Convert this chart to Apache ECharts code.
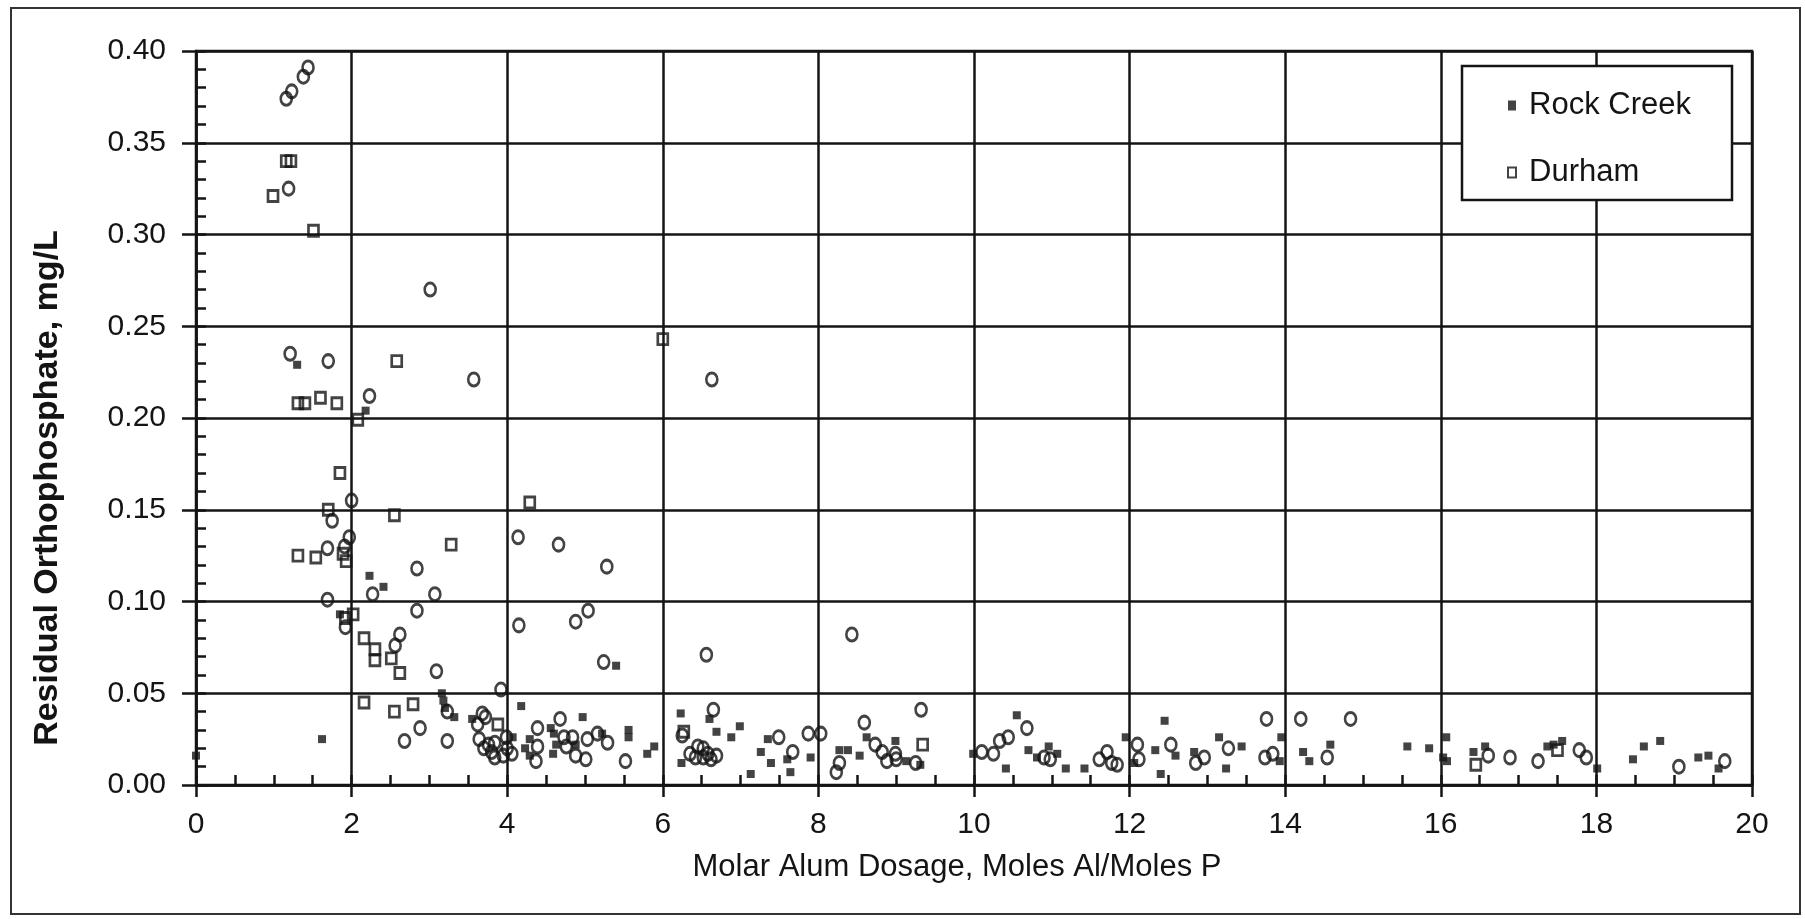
<!DOCTYPE html>
<html>
<head>
<meta charset="utf-8">
<script src="https://cdn.jsdelivr.net/npm/echarts@6/dist/echarts.min.js"></script>
<style>
html,body{margin:0;padding:0;background:#fff;}
#chart{width:1805px;height:919px;}
</style>
</head>
<body>
<div id="chart"></div>
<script>
// ---- Data ----
var xTicks = [0, 2, 4, 6, 8, 10, 12, 14, 16, 18, 20];
var yTicks = [0.00, 0.05, 0.10, 0.15, 0.20, 0.25, 0.30, 0.35, 0.40];
var xTitle = 'Molar Alum Dosage, Moles Al/Moles P';
var yTitle = 'Residual Orthophosphate, mg/L';

var rockCreekX = [1.30, 2.18, 2.23, 2.41, 1.85, 3.16, 3.18, 3.20, 3.32, 5.40,
  0.00, 1.62, 3.55, 4.18, 4.07, 4.23, 4.29, 4.29, 4.56, 4.60, 4.63, 4.59, 4.88, 4.97, 5.22,
  5.56, 5.56, 5.80, 5.89, 6.23, 6.24, 6.60, 6.69, 6.88, 6.99, 7.13, 7.26, 7.35, 7.39, 7.64,
  7.60, 7.90, 8.27, 8.38, 8.53, 8.62, 8.99, 9.13, 9.31, 9.99, 10.41, 10.55, 10.70, 10.81,
  10.96, 11.07, 11.18, 11.42, 11.95, 12.06, 12.33, 12.40, 12.45, 12.59, 12.83, 13.15, 13.24,
  13.44, 13.93, 13.95, 14.23, 14.31, 14.58, 15.57, 15.85, 16.07, 16.03, 16.08, 16.42, 16.57,
  17.37, 17.56, 17.45, 18.01, 18.47, 18.61, 18.82, 19.31, 19.44, 19.57];
var rockCreekY = [0.229, 0.204, 0.114, 0.108, 0.093, 0.050, 0.046, 0.042, 0.037, 0.065,
  0.016, 0.025, 0.036, 0.043, 0.026, 0.020, 0.025, 0.016, 0.031, 0.028, 0.022, 0.017, 0.022, 0.037, 0.028,
  0.030, 0.026, 0.017, 0.021, 0.039, 0.012, 0.036, 0.029, 0.026, 0.032, 0.006, 0.018, 0.025, 0.012, 0.007,
  0.014, 0.015, 0.019, 0.019, 0.016, 0.026, 0.024, 0.013, 0.011, 0.017, 0.009, 0.038, 0.019, 0.015,
  0.021, 0.017, 0.009, 0.009, 0.026, 0.012, 0.019, 0.006, 0.035, 0.016, 0.018, 0.026, 0.009,
  0.021, 0.013, 0.026, 0.018, 0.013, 0.022, 0.021, 0.020, 0.026, 0.015, 0.013, 0.018, 0.021,
  0.021, 0.024, 0.022, 0.009, 0.014, 0.021, 0.024, 0.015, 0.016, 0.009];

var durhamSqX = [1.16, 1.22, 0.99, 1.51, 2.58, 1.31, 1.40, 1.60, 1.81, 2.08, 6.00, 1.85, 1.70,
  2.55, 4.29, 3.28, 1.31, 1.54, 1.89, 1.93, 1.92, 2.02, 2.16, 2.30, 2.30, 2.51, 2.62,
  2.16, 2.55, 2.79, 3.88, 6.27, 9.34, 16.45, 17.50];
var durhamSqY = [0.340, 0.340, 0.321, 0.302, 0.231, 0.208, 0.208, 0.211, 0.208, 0.199, 0.243, 0.170, 0.150,
  0.147, 0.154, 0.131, 0.125, 0.124, 0.126, 0.122, 0.091, 0.093, 0.080, 0.074, 0.068, 0.069, 0.061,
  0.045, 0.040, 0.044, 0.033, 0.029, 0.022, 0.011, 0.019];

var durhamCircX = [1.38, 1.44, 1.16, 1.23, 1.19, 3.01, 1.21, 1.70, 3.57, 6.63, 2.23, 2.00, 1.75,
  1.97, 1.69, 1.91, 4.14, 4.66, 5.28, 2.84, 2.27, 3.07, 1.69, 2.84, 1.92, 4.15, 4.88, 5.04,
  2.62, 2.56, 8.43, 6.56, 5.24, 3.09, 3.92,
  3.23, 2.88, 2.68, 3.23, 3.68, 3.62, 3.64, 3.70, 3.72, 3.76, 3.84, 3.99, 3.80, 3.84, 3.95,
  4.06, 4.00, 4.39, 4.68, 4.39, 4.37, 4.73, 4.84, 4.76, 4.88, 5.01, 5.03, 5.16, 5.29, 5.52,
  6.65, 6.25, 6.35, 6.45, 6.52, 6.58, 6.52, 6.69, 6.62, 6.42, 7.49, 7.67, 7.87, 8.03, 8.23,
  8.27, 8.59, 8.73, 8.82, 8.88, 8.99, 9.00, 9.25, 9.32, 10.10, 10.25, 10.33, 10.44, 10.68,
  10.90, 10.98, 11.61, 11.71, 11.77, 11.84, 12.10, 12.12, 12.53, 12.85, 12.96, 13.27, 13.76,
  13.74, 13.84, 14.20, 14.54, 14.84, 16.61, 16.89, 17.25, 17.78, 17.87, 19.06, 19.65];
var durhamCircY = [0.386, 0.391, 0.374, 0.378, 0.325, 0.270, 0.235, 0.231, 0.221, 0.221, 0.212, 0.155, 0.144,
  0.135, 0.129, 0.130, 0.135, 0.131, 0.119, 0.118, 0.104, 0.104, 0.101, 0.095, 0.086, 0.087, 0.089, 0.095,
  0.082, 0.076, 0.082, 0.071, 0.067, 0.062, 0.052,
  0.040, 0.031, 0.024, 0.024, 0.039, 0.033, 0.025, 0.020, 0.037, 0.022, 0.023, 0.026, 0.018, 0.015, 0.016,
  0.017, 0.020, 0.031, 0.036, 0.021, 0.013, 0.026, 0.026, 0.021, 0.016, 0.014, 0.025, 0.028, 0.023, 0.013,
  0.041, 0.027, 0.017, 0.021, 0.020, 0.017, 0.015, 0.016, 0.014, 0.015, 0.026, 0.018, 0.028, 0.028, 0.007,
  0.012, 0.034, 0.022, 0.018, 0.013, 0.017, 0.014, 0.012, 0.041, 0.018, 0.017, 0.024, 0.026, 0.031,
  0.015, 0.014, 0.014, 0.018, 0.012, 0.011, 0.022, 0.014, 0.022, 0.012, 0.015, 0.020, 0.036,
  0.015, 0.017, 0.036, 0.015, 0.036, 0.016, 0.015, 0.013, 0.019, 0.015, 0.010, 0.013];

function zip(xs, ys) { return xs.map(function (x, i) { return [x, ys[i]]; }); }

var INK = '#141414';
var FONT = '"Liberation Sans", Arial, sans-serif';

var chart = echarts.init(document.getElementById('chart'), null, {renderer: 'canvas'});
chart.setOption({
  animation: false,
  backgroundColor: '#ffffff',
  textStyle: {fontFamily: FONT, color: INK},
  grid: {left: 196, right: 53, top: 51, bottom: 134, show: true, borderColor: INK, borderWidth: 2.5, backgroundColor: 'transparent'},
  legend: {
    orient: 'vertical', left: 1502, top: 85, itemGap: 36, itemWidth: 8, itemHeight: 10, z: 20,
    textStyle: {fontSize: 31, color: INK, fontFamily: FONT, padding: [0, 0, 0, 8]},
    data: [
      {name: 'Rock Creek', icon: 'rect', itemStyle: {color: INK}},
      {name: 'Durham', icon: 'rect', itemStyle: {color: '#fff', borderColor: INK, borderWidth: 2}}
    ]
  },
  graphic: [
    {type: 'rect', z: 15, shape: {x: 1462, y: 66, width: 270, height: 134}, style: {fill: '#fff', stroke: INK, lineWidth: 2.5}},
    {type: 'rect', z: 15, silent: true, shape: {x: 11, y: 8, width: 1789, height: 906}, style: {fill: 'none', stroke: '#333', lineWidth: 2}},
    {type: 'text', z: 15, x: 957, y: 867, style: {text: xTitle, font: '31px ' + FONT, fill: INK, textAlign: 'center', textVerticalAlign: 'middle'}},
    {type: 'text', z: 15, x: 48, y: 488, rotation: Math.PI / 2, style: {text: yTitle, font: 'bold 34px ' + FONT, fill: INK, textAlign: 'center', textVerticalAlign: 'middle'}}
  ],
  xAxis: [{
    type: 'value', min: xTicks[0], max: xTicks[xTicks.length - 1], interval: 2,
    axisLine: {lineStyle: {color: INK, width: 2.5}},
    axisTick: {show: true, inside: false, length: 12, lineStyle: {color: INK, width: 2.5}},
    axisLabel: {fontSize: 30, color: INK, margin: 25, fontFamily: FONT},
    splitLine: {show: true, lineStyle: {color: INK, width: 2.5}}
  }, {
    type: 'value', min: 0, max: 20, interval: 0.5, position: 'bottom', gridIndex: 0,
    axisLine: {show: false}, axisLabel: {show: false}, splitLine: {show: false},
    axisTick: {show: true, inside: true, length: 10, lineStyle: {color: INK, width: 2.5}}
  }],
  yAxis: [{
    type: 'value', min: yTicks[0], max: yTicks[yTicks.length - 1], interval: 0.05,
    axisLine: {lineStyle: {color: INK, width: 2.5}},
    axisTick: {show: true, inside: false, length: 14, lineStyle: {color: INK, width: 2.5}},
    axisLabel: {fontSize: 30, color: INK, margin: 30, fontFamily: FONT, formatter: function (v) { return v.toFixed(2); }},
    splitLine: {show: true, lineStyle: {color: INK, width: 2.5}}
  }, {
    type: 'value', min: 0, max: 0.4, interval: 0.01, position: 'left', gridIndex: 0,
    axisLine: {show: false}, axisLabel: {show: false}, splitLine: {show: false},
    axisTick: {show: true, inside: true, length: 10, lineStyle: {color: INK, width: 2.5}}
  }],
  series: [{
    name: 'Rock Creek', type: 'scatter', symbol: 'rect', symbolSize: 8,
    itemStyle: {color: INK}, data: zip(rockCreekX, rockCreekY), z: 5
  }, {
    name: 'Durham', type: 'scatter', symbol: 'rect', symbolSize: [10, 11],
    itemStyle: {color: 'rgba(255,255,255,0)', borderColor: INK, borderWidth: 2.8},
    data: zip(durhamSqX, durhamSqY), z: 4
  }, {
    name: 'Durham', type: 'scatter', symbol: 'circle', symbolSize: [11, 13],
    itemStyle: {color: 'rgba(255,255,255,0)', borderColor: INK, borderWidth: 2.8},
    data: zip(durhamCircX, durhamCircY), z: 4
  }]
});
</script>
</body>
</html>
